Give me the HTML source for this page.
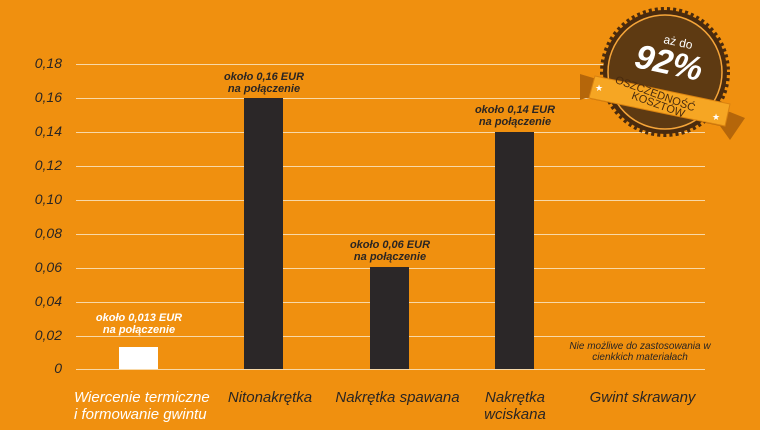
<!DOCTYPE html>
<html><head><style>
body{margin:0;width:760px;height:430px;background:#F0900F;overflow:hidden;position:relative;font-family:"Liberation Sans",sans-serif}
.g{position:absolute;left:76px;width:629px;height:1px;background:#F8D9A8}
.yl{position:absolute;left:0;width:62px;text-align:right;font-style:italic;font-size:14px;color:#2a2523}
.bar{position:absolute;width:39px;background:#2B2728}
.ann{position:absolute;width:160px;text-align:center;font-weight:bold;font-style:italic;font-size:11px;line-height:12px;color:#2a2523}
.xl{position:absolute;font-style:italic;font-size:15px;color:#2a2523;line-height:17px;text-align:center}
</style></head><body>
<div class="g" style="top:64px"></div><div class="g" style="top:98px"></div><div class="g" style="top:132px"></div>
<div class="g" style="top:166px"></div><div class="g" style="top:200px"></div><div class="g" style="top:234px"></div>
<div class="g" style="top:268px"></div><div class="g" style="top:302px"></div><div class="g" style="top:336px"></div>
<div class="g" style="top:369px"></div>
<div class="yl" style="top:55px">0,18</div><div class="yl" style="top:89px">0,16</div><div class="yl" style="top:123px">0,14</div>
<div class="yl" style="top:157px">0,12</div><div class="yl" style="top:191px">0,10</div><div class="yl" style="top:225px">0,08</div>
<div class="yl" style="top:259px">0,06</div><div class="yl" style="top:293px">0,04</div><div class="yl" style="top:327px">0,02</div>
<div class="yl" style="top:360px">0</div>
<div class="bar" style="left:119px;top:347px;height:22px;background:#fff"></div>
<div class="bar" style="left:244px;top:98px;height:271px"></div>
<div class="bar" style="left:370px;top:267px;height:102px"></div>
<div class="bar" style="left:495px;top:132px;height:237px"></div>
<div class="ann" style="left:59px;top:312px;color:#fff">około 0,013 EUR<br>na połączenie</div>
<div class="ann" style="left:184px;top:71px">około 0,16 EUR<br>na połączenie</div>
<div class="ann" style="left:310px;top:239px">około 0,06 EUR<br>na połączenie</div>
<div class="ann" style="left:435px;top:104px">około 0,14 EUR<br>na połączenie</div>
<div class="ann" style="left:545px;top:341px;width:190px;font-weight:normal;font-size:10px;line-height:11px">Nie możliwe do zastosowania w<br>cienkkich materiałach</div>
<div class="xl" style="left:74px;top:389px;text-align:left;color:#fff">Wiercenie termiczne<br>i formowanie gwintu</div>
<div class="xl" style="left:220px;top:389px;width:100px">Nitonakrętka</div>
<div class="xl" style="left:330px;top:389px;width:135px">Nakrętka spawana</div>
<div class="xl" style="left:470px;top:389px;width:90px">Nakrętka<br>wciskana</div>
<div class="xl" style="left:580px;top:389px;width:125px">Gwint skrawany</div>
<svg style="position:absolute;left:580px;top:0" width="180" height="170" viewBox="0 0 180 170">
<polygon points="0,74 20,80 150,112 165,118 150,140 140,126 6,98 0,100" fill="#B5660A"/>
<circle cx="85" cy="72" r="62" fill="#4A2B0E" stroke="#4A2B0E" stroke-width="6" stroke-dasharray="3 3"/>
<circle cx="85" cy="72" r="57" fill="#5E3A12" stroke="#F5A53A" stroke-width="1.5"/>
<polygon points="15,76 150,104 145,126 9,98" fill="#F6A623" stroke="#D98210" stroke-width="1"/>
<text x="83" y="43" font-family="Liberation Sans" font-size="12" fill="#fff" transform="rotate(12 83 43)">aż do</text>
<text x="55" y="74" font-family="Liberation Sans" font-style="italic" font-weight="bold" font-size="34" fill="#fff" transform="rotate(12 88 62)">92%</text>
<text x="74" y="97" text-anchor="middle" font-family="Liberation Sans" font-size="11" fill="#4A2B0E" transform="rotate(20 74 97)">OSZCZEDNOŚĆ</text>
<text x="77" y="108" text-anchor="middle" font-family="Liberation Sans" font-size="11" fill="#4A2B0E" transform="rotate(20 77 108)">KOSZTÓW</text>
<text x="15" y="91" font-size="9" fill="#fff">★</text>
<text x="132" y="120" font-size="9" fill="#fff">★</text>
</svg>
</body></html>
